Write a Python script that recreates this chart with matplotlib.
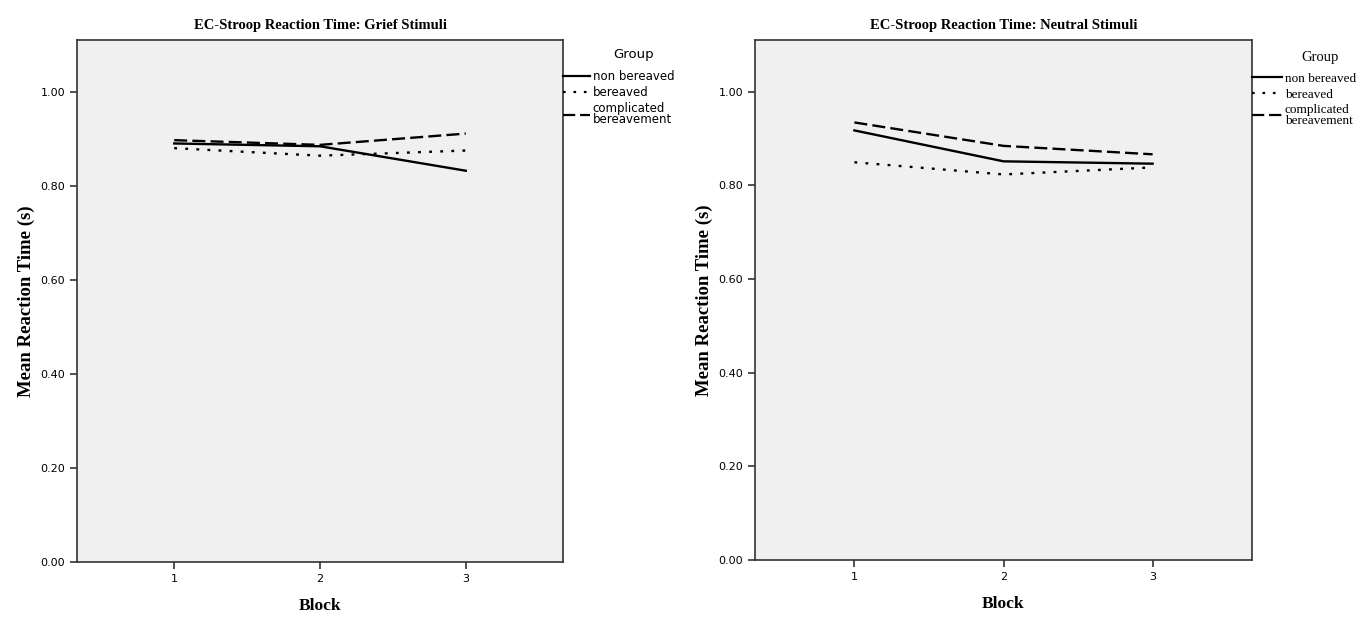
import matplotlib
matplotlib.use("Agg")
import matplotlib.pyplot as plt

# datos
blocks = [1, 2, 3]
groups = ["non bereaved", "bereaved", "complicated\nbereavement"]

grief_non = [0.890, 0.884, 0.832]
grief_ber = [0.880, 0.864, 0.875]
grief_comp = [0.897, 0.887, 0.911]

neutral_non = [0.917, 0.851, 0.846]
neutral_ber = [0.849, 0.823, 0.838]
neutral_comp = [0.934, 0.884, 0.866]

y_ticks = [0.0, 0.2, 0.4, 0.6, 0.8, 1.0]

styles = [
    dict(linestyle="-"),
    dict(linestyle=(0, (1.2, 3.5))),
    dict(linestyle=(0, (5.5, 2.2))),
]

serif = "Liberation Serif"


def plot_panel(fig, ax, title, series, legend_family, legend_size, legend_y):
    ax.set_facecolor("#f0f0f0")
    for vals, name, st in zip(series, groups, styles):
        ax.plot(blocks, vals, color="black", linewidth=1.7, label=name, **st)
    ax.set_xlim(1 / 3, 11 / 3)
    ax.set_ylim(0, 1.11)
    ax.set_xticks(blocks)
    ax.set_yticks(y_ticks)
    ax.set_yticklabels([f"{v:.2f}" for v in y_ticks])
    for sp in ax.spines.values():
        sp.set_color("#333333")
        sp.set_linewidth(1.2)
    ax.tick_params(axis="both", labelsize=8, color="#333333", width=1.2, length=5)
    ax.set_title(title, fontsize=10.5, fontweight="bold", family=serif, pad=8)
    ax.set_xlabel("Block", fontsize=12.5, fontweight="bold", family=serif, labelpad=10)
    ax.set_ylabel("Mean Reaction Time (s)", fontsize=13.5, fontweight="bold", family=serif, labelpad=4)

    leg = ax.legend(loc="upper left", bbox_to_anchor=(1.0, legend_y), frameon=False,
                    borderaxespad=0, borderpad=0, handlelength=2.3, handletextpad=0.2,
                    labelspacing=0.25,
                    prop=dict(family=legend_family, size=legend_size))
    for t in leg.get_texts():
        t.set_linespacing(0.88)
    for line in leg.get_lines():
        line.set_linewidth(1.6)
    return leg


fig = plt.figure(figsize=(13.71, 6.18), dpi=100)
ax1 = fig.add_axes([77 / 1371, 56 / 618, 486 / 1371, 522 / 618])
ax2 = fig.add_axes([755 / 1371, 58 / 618, 497 / 1371, 520 / 618])

leg1 = plot_panel(fig, ax1, "EC-Stroop Reaction Time: Grief Stimuli",
                  [grief_non, grief_ber, grief_comp], "DejaVu Sans", 8.5, 0.943)
leg2 = plot_panel(fig, ax2, "EC-Stroop Reaction Time: Neutral Stimuli",
                  [neutral_non, neutral_ber, neutral_comp], serif, 9.5, 0.937)

# título "Group" centrado sobre los textos de la leyenda
fig.canvas.draw()
renderer = fig.canvas.get_renderer()
for leg, fam, size in [(leg1, "DejaVu Sans", 9.5), (leg2, serif, 10.5)]:
    boxes = [t.get_window_extent(renderer) for t in leg.get_texts()]
    x0 = min(b.x0 for b in boxes)
    x1 = max(b.x1 for b in boxes)
    ytop = max(b.y1 for b in boxes)
    xc, yc = fig.transFigure.inverted().transform(((x0 + x1) / 2, ytop + 15))
    fig.text(xc, yc, "Group", ha="center", va="center", family=fam, fontsize=size)

fig.savefig("out.png", dpi=100)
